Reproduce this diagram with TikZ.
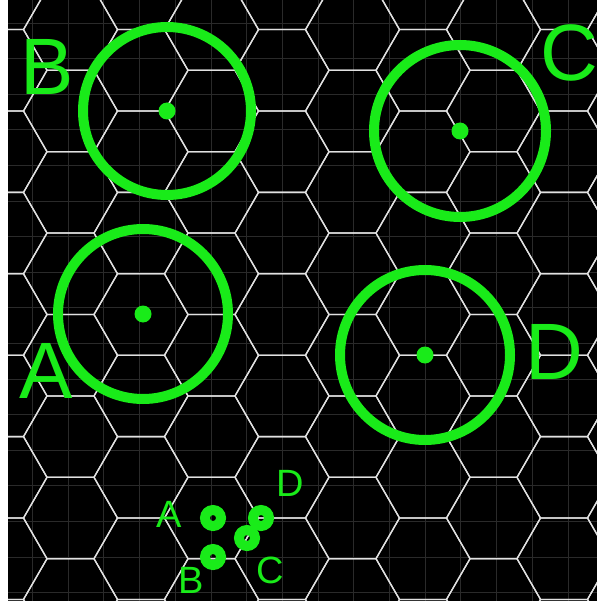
\documentclass[tikz,border=0pt]{standalone}
\usepackage{fontspec}
\setmainfont{Liberation Sans}
\definecolor{radar}{RGB}{25,235,25}
\definecolor{faint}{RGB}{42,42,42}
\definecolor{hexcol}{RGB}{225,225,225}
\begin{document}
\begin{tikzpicture}[x=1pt,y=-1pt,
  hexline/.style={hexcol, line width=1.3pt, line join=miter},
  gridline/.style={faint, line width=0.9pt},
  ring/.style={radar, line width=10pt},
  smallring/.style={radar, line width=10pt},
  biglabel/.style={text=radar, font=\fontsize{80}{80}\selectfont, inner sep=0pt},
  smalllabel/.style={text=radar, font=\fontsize{38}{38}\selectfont, inner sep=0pt}]
\fill[black] (0,0) rectangle (597,601);
\useasboundingbox (0,0) rectangle (597,601);
\begin{scope}
\clip (0,0) rectangle (597,601);
\foreach \k in {0,...,16} \draw[gridline] (0,{23+35.6*\k}) -- (597,{23+35.6*\k});
\foreach \k in {0,...,16} \draw[gridline] ({32.5+35.7*\k},0) -- ({32.5+35.7*\k},601);
\foreach \c in {0,...,9}{
  \ifodd\c \def\yo{111}\else\def\yo{70.3}\fi
  \foreach \m in {-2,...,7}{
    \pgfmathsetmacro\cx{70.5*\c}
    \pgfmathsetmacro\cy{\yo+81.4*\m}
    \draw[hexline] (\cx+47,\cy) -- (\cx+23.5,\cy+40.7) -- (\cx-23.5,\cy+40.7)
      -- (\cx-47,\cy) -- (\cx-23.5,\cy-40.7) -- (\cx+23.5,\cy-40.7) -- cycle;
  }
}
\end{scope}
\fill[white] (0,0) rectangle (8,601);
% big circles
\coordinate (cA) at (143,314);
\coordinate (cB) at (167,111);
\coordinate (cC) at (460,131);
\coordinate (cD) at (425,355);
\draw[ring] (cA) circle (85);
\draw[ring] (cB) circle (84);
\draw[ring] (cC) circle (86);
\draw[ring] (cD) circle (85);
\foreach \p in {cA,cB,cC,cD} \fill[radar] (\p) circle (8.5);
\node[biglabel] (labA) at (46,370.5) {A};
\node[biglabel] (labB) at (47.5,66.5) {B};
\node[biglabel] (labC) at (569,53) {C};
\node[biglabel] (labD) at (554.5,351.5) {D};
% small rings
\coordinate (sA) at (213,518);
\coordinate (sB) at (213,557);
\coordinate (sC) at (247,538);
\coordinate (sD) at (261,518);
\foreach \p in {sA,sB,sC,sD} \draw[smallring] (\p) circle (8);
\node[smalllabel] (slA) at (169,514) {A};
\node[smalllabel] (slB) at (191,580) {B};
\node[smalllabel] (slC) at (270,570.5) {C};
\node[smalllabel] (slD) at (290.5,483.5) {D};
\end{tikzpicture}
\end{document}
